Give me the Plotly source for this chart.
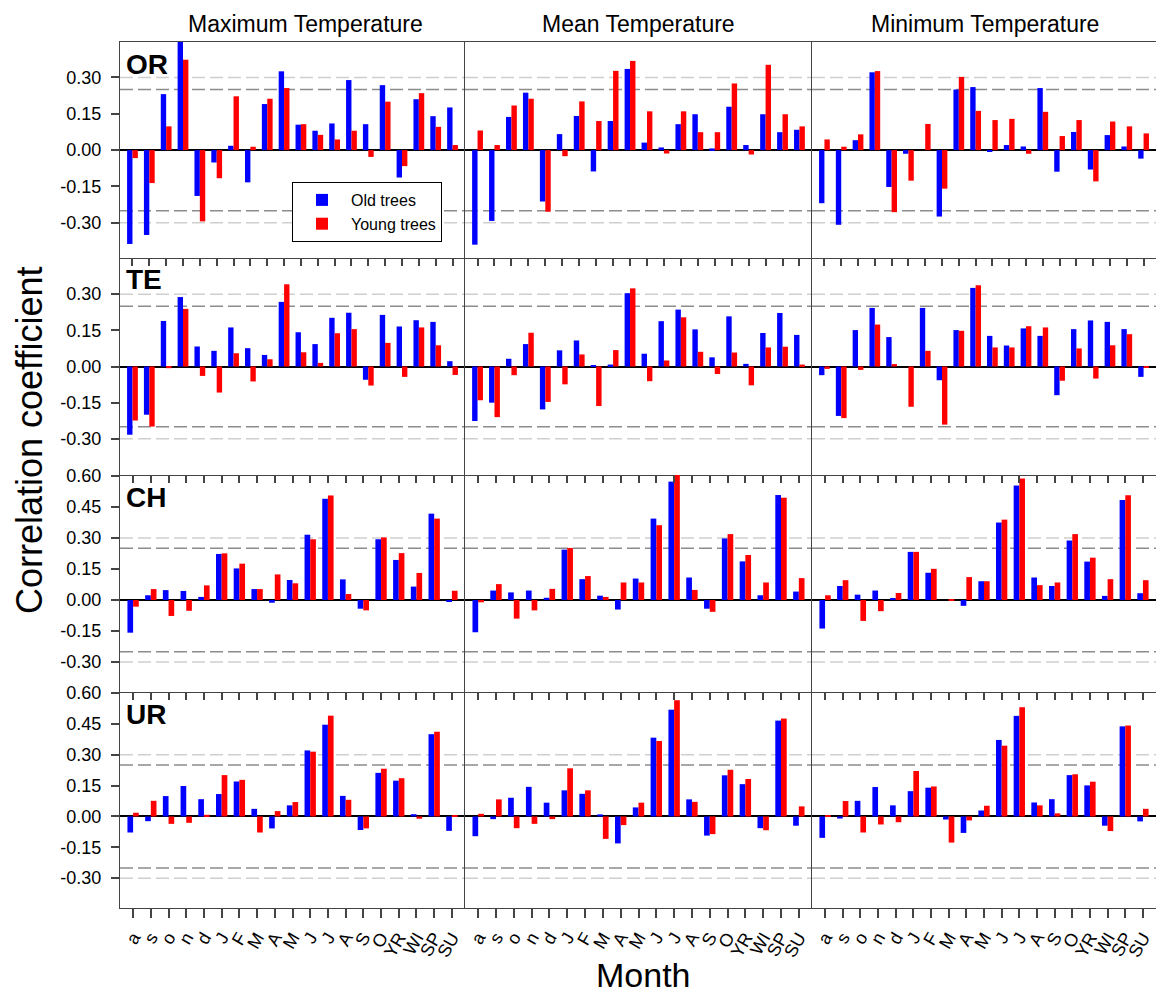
import plotly.graph_objects as go

# ---------------- data ----------------
months = ["a", "s", "o", "n", "d", "J", "F", "M", "A", "M", "J", "J", "A", "S", "O", "YR", "WI", "SP", "SU"]
sites = ["OR", "TE", "CH", "UR"]
variables = ["Maximum Temperature", "Mean Temperature", "Minimum Temperature"]
series_names = ["Old trees", "Young trees"]
sig_levels = [0.25, 0.30]

yticks_small = [-0.30, -0.15, 0.00, 0.15, 0.30]
yticks_small_text = ["-0.30", "-0.15", "0.00", "0.15", "0.30"]
yticks_big = [-0.30, -0.15, 0.00, 0.15, 0.30, 0.45, 0.60]
yticks_big_text = ["-0.30", "-0.15", "0.00", "0.15", "0.30", "0.45", "0.60"]

or_max_old = [-0.387, -0.35, 0.231, 0.46, -0.189, -0.051, 0.018, -0.133, 0.19, 0.325, 0.105, 0.08, 0.11, 0.289, 0.107, 0.268, -0.113, 0.21, 0.14, 0.176]
or_max_young = [-0.033, -0.136, 0.098, 0.373, -0.294, -0.116, 0.222, 0.014, 0.212, 0.256, 0.107, 0.063, 0.044, 0.08, -0.028, 0.2, -0.066, 0.235, 0.096, 0.021]
or_mean_old = [-0.39, -0.292, 0.137, 0.237, -0.212, 0.066, 0.141, -0.088, 0.12, 0.335, 0.031, 0.011, 0.107, 0.148, 0.007, 0.179, 0.021, 0.148, 0.074, 0.084]
or_mean_young = [0.081, 0.021, 0.184, 0.212, -0.254, -0.025, 0.201, 0.12, 0.327, 0.368, 0.16, -0.014, 0.16, 0.074, 0.074, 0.275, -0.018, 0.352, 0.148, 0.098]
or_min_old = [-0.219, -0.308, 0.041, 0.321, -0.152, -0.015, 0.0, -0.274, 0.25, 0.26, -0.007, 0.021, 0.015, 0.256, -0.089, 0.075, -0.08, 0.062, 0.015, -0.035]
or_min_young = [0.044, 0.014, 0.065, 0.326, -0.256, -0.126, 0.108, -0.159, 0.302, 0.162, 0.124, 0.129, -0.015, 0.158, 0.058, 0.124, -0.129, 0.118, 0.098, 0.069]

te_max_old = [-0.283, -0.2, 0.189, 0.288, 0.083, 0.065, 0.162, 0.076, 0.048, 0.268, 0.142, 0.093, 0.202, 0.223, -0.055, 0.214, 0.166, 0.192, 0.185, 0.022]
te_max_young = [-0.224, -0.249, -0.007, 0.239, -0.039, -0.108, 0.055, -0.062, 0.03, 0.341, 0.059, 0.015, 0.138, 0.155, -0.079, 0.098, -0.043, 0.162, 0.088, -0.035]
te_mean_old = [-0.226, -0.15, 0.032, 0.093, -0.178, 0.067, 0.108, 0.004, 0.008, 0.304, 0.053, 0.188, 0.236, 0.154, 0.038, 0.208, 0.011, 0.139, 0.222, 0.131]
te_mean_young = [-0.14, -0.21, -0.036, 0.14, -0.147, -0.074, 0.05, -0.164, 0.068, 0.324, -0.061, 0.025, 0.204, 0.061, -0.031, 0.058, -0.078, 0.079, 0.082, 0.008]
te_min_old = [-0.036, -0.205, 0.151, 0.243, 0.122, 0.0, 0.243, -0.057, 0.151, 0.326, 0.127, 0.087, 0.158, 0.127, -0.119, 0.155, 0.191, 0.185, 0.155, -0.043]
te_min_young = [-0.01, -0.214, -0.014, 0.174, 0.01, -0.167, 0.065, -0.241, 0.148, 0.337, 0.079, 0.079, 0.167, 0.162, -0.059, 0.075, -0.05, 0.088, 0.134, -0.006]

ch_max_old = [-0.158, 0.023, 0.048, 0.044, 0.015, 0.223, 0.153, 0.053, -0.013, 0.097, 0.316, 0.49, 0.1, -0.042, 0.294, 0.194, 0.065, 0.418, -0.008]
ch_max_young = [-0.032, 0.053, -0.077, -0.052, 0.071, 0.226, 0.176, 0.053, 0.124, 0.081, 0.294, 0.506, 0.029, -0.05, 0.303, 0.227, 0.131, 0.394, 0.045]
ch_mean_old = [-0.156, 0.046, 0.037, 0.046, 0.011, 0.244, 0.101, 0.021, -0.046, 0.104, 0.394, 0.573, 0.109, -0.042, 0.298, 0.187, 0.023, 0.508, 0.041]
ch_mean_young = [-0.011, 0.077, -0.09, -0.05, 0.054, 0.252, 0.116, 0.015, 0.085, 0.085, 0.362, 0.61, 0.049, -0.057, 0.319, 0.218, 0.085, 0.495, 0.106]
ch_min_old = [-0.138, 0.068, 0.026, 0.046, 0.01, 0.233, 0.132, 0.0, -0.028, 0.091, 0.375, 0.554, 0.109, 0.068, 0.288, 0.186, 0.02, 0.484, 0.033]
ch_min_young = [0.023, 0.096, -0.101, -0.054, 0.034, 0.233, 0.151, 0.005, 0.111, 0.091, 0.389, 0.588, 0.072, 0.085, 0.319, 0.205, 0.101, 0.507, 0.096]

ur_max_old = [-0.078, -0.023, 0.099, 0.148, 0.084, 0.109, 0.17, 0.037, -0.058, 0.054, 0.321, 0.446, 0.1, -0.066, 0.212, 0.174, 0.011, 0.40, -0.07]
ur_max_young = [0.018, 0.076, -0.036, -0.031, 0.008, 0.201, 0.178, -0.078, 0.026, 0.07, 0.315, 0.49, 0.081, -0.058, 0.232, 0.186, -0.011, 0.412, 0.006]
ur_mean_old = [-0.096, -0.013, 0.091, 0.144, 0.067, 0.127, 0.11, 0.01, -0.131, 0.044, 0.383, 0.519, 0.083, -0.093, 0.2, 0.157, -0.057, 0.466, -0.045]
ur_mean_young = [0.013, 0.083, -0.057, -0.036, -0.013, 0.234, 0.127, -0.109, -0.042, 0.067, 0.367, 0.565, 0.071, -0.086, 0.227, 0.182, -0.067, 0.476, 0.049]
ur_min_old = [-0.104, -0.01, 0.076, 0.143, 0.054, 0.123, 0.14, -0.015, -0.08, 0.029, 0.372, 0.489, 0.068, 0.084, 0.201, 0.151, -0.045, 0.438, -0.024]
ur_min_young = [0.006, 0.075, -0.078, -0.039, -0.028, 0.221, 0.146, -0.127, -0.019, 0.052, 0.344, 0.531, 0.054, 0.015, 0.205, 0.169, -0.071, 0.442, 0.037]

panel_data = [
    [(or_max_old, or_max_young), (or_mean_old, or_mean_young), (or_min_old, or_min_young)],
    [(te_max_old, te_max_young), (te_mean_old, te_mean_young), (te_min_old, te_min_young)],
    [(ch_max_old, ch_max_young), (ch_mean_old, ch_mean_young), (ch_min_old, ch_min_young)],
    [(ur_max_old, ur_max_young), (ur_mean_old, ur_mean_young), (ur_min_old, ur_min_young)],
]

# ---------------- layout geometry (pixels) ----------------
W, H = 1156, 996
col_px = [(120, 465), (465, 812), (812, 1156)]
row_px = [(42, 258), (258, 475), (475, 692), (692, 908)]
row_yrange = [[-0.445, 0.446], [-0.45, 0.45], [-0.445, 0.605], [-0.445, 0.605]]
FONT = "Arial, Liberation Sans, sans-serif"
BLUE, RED = "#0000FF", "#FF0000"
AXCOL = "#444444"
BARW = 0.32


def px_x(p):
    return p / W


def px_y(p):
    return 1 - p / H


fig = go.Figure()
layout = dict(
    width=W, height=H, margin=dict(l=0, r=0, t=0, b=0), autosize=False,
    paper_bgcolor="white", plot_bgcolor="white", template="none",
    barmode="overlay", font=dict(family=FONT, color="black"),
    showlegend=True,
)
shapes = []
extra_idx = 13

for r in range(4):
    for c in range(3):
        idx = r * 3 + c + 1
        old, young = panel_data[r][c]
        n = len(old)
        xs = list(range(n))
        xname = "x" if idx == 1 else f"x{idx}"
        yname = "y" if idx == 1 else f"y{idx}"
        first = (r == 0 and c == 0)
        fig.add_trace(go.Bar(x=xs, y=old, width=BARW, offset=-BARW, marker=dict(color=BLUE, line=dict(width=0)),
                             name=series_names[0], showlegend=first, xaxis=xname, yaxis=yname))
        fig.add_trace(go.Bar(x=xs, y=young, width=BARW, offset=0, marker=dict(color=RED, line=dict(width=0)),
                             name=series_names[1], showlegend=first, xaxis=xname, yaxis=yname))
        xr = [-0.74, n - 1 + 0.74]
        xkey = "xaxis" if idx == 1 else f"xaxis{idx}"
        ykey = "yaxis" if idx == 1 else f"yaxis{idx}"
        bottom = (r == 3)
        layout[xkey] = dict(
            domain=[px_x(col_px[c][0]), px_x(col_px[c][1])], anchor=yname, range=xr,
            tickmode="array", tickvals=xs, ticktext=months if bottom else [""] * n,
            showticklabels=bottom, ticks="outside" if bottom else "", ticklen=9, tickwidth=1.5,
            tickcolor=AXCOL, tickangle=-60, ticklabelstandoff=2,
            tickfont=dict(size=18, family=FONT, color="black"),
            showline=True, linecolor=AXCOL, linewidth=1.2, mirror=(r == 0),
            showgrid=False, zeroline=False, fixedrange=True,
        )
        if c == 0:
            tv = yticks_small if r < 2 else yticks_big
            tt = yticks_small_text if r < 2 else yticks_big_text
        else:
            tv, tt = [], []
        layout[ykey] = dict(
            domain=[px_y(row_px[r][1]), px_y(row_px[r][0])], anchor=xname, range=row_yrange[r],
            tickmode="array", tickvals=tv, ticktext=tt, ticks="outside" if c == 0 else "",
            ticklen=8, tickwidth=1.5, tickcolor=AXCOL, ticklabelstandoff=6,
            tickfont=dict(size=18, family=FONT, color="black"), showticklabels=(c == 0),
            showline=True, linecolor=AXCOL, linewidth=1.2, mirror=False,
            showgrid=False, zeroline=True, zerolinecolor="black", zerolinewidth=2, fixedrange=True,
        )
        # inside ticks hanging from the top border (rows 2-4)
        if r > 0:
            ek = f"xaxis{extra_idx}"
            layout[ek] = dict(
                overlaying=xname, anchor=yname, side="top", range=xr, tickmode="array",
                tickvals=xs, ticks="inside", ticklen=8, tickwidth=1.5, tickcolor=AXCOL,
                showticklabels=False, showline=False, showgrid=False, zeroline=False, fixedrange=True,
            )
            fig.add_trace(go.Scatter(x=[None], y=[None], xaxis=f"x{extra_idx}", yaxis=yname,
                                     showlegend=False, hoverinfo="skip"))
            extra_idx += 1
        # significance lines
        for lvl in sig_levels:
            col = "#8c8c8c" if lvl == sig_levels[0] else "#cfcfcf"
            for sgn in (1, -1):
                shapes.append(dict(type="line", xref=f"{xname} domain", yref=yname, x0=0, x1=1,
                                   y0=sgn * lvl, y1=sgn * lvl, layer="below",
                                   line=dict(color=col, width=1.5, dash="13px,5px")))

layout["shapes"] = shapes

annotations = []
# column titles
title_cx = [305, 638, 985]
for c, name in enumerate(variables):
    annotations.append(dict(text=name, x=px_x(title_cx[c]), y=px_y(24), xref="paper", yref="paper",
                            showarrow=False, xanchor="center", yanchor="middle",
                            font=dict(size=23, family=FONT, color="black")))
# site labels
for r, s in enumerate(sites):
    annotations.append(dict(text=f"<b>{s}</b>", x=px_x(124), y=px_y(row_px[r][0] + 22), xref="paper",
                            yref="paper", showarrow=False, xanchor="left", yanchor="middle",
                            font=dict(size=28, family=FONT, color="black")))
# axis titles
annotations.append(dict(text="Correlation coefficient", x=px_x(30), y=px_y(440), xref="paper", yref="paper",
                        showarrow=False, textangle=-90, xanchor="center", yanchor="middle",
                        font=dict(size=36, family=FONT, color="black")))
annotations.append(dict(text="Month", x=px_x(643), y=px_y(975), xref="paper", yref="paper",
                        showarrow=False, xanchor="center", yanchor="middle",
                        font=dict(size=34, family=FONT, color="black")))
layout["annotations"] = annotations

layout["legend"] = dict(x=px_x(292), y=px_y(182), xanchor="left", yanchor="top",
                        bordercolor="black", borderwidth=1, bgcolor="white",
                        font=dict(size=16, family=FONT, color="black"), itemwidth=48,
                        tracegroupgap=0)

fig.update_layout(**layout)
fig.write_html("out.html")
